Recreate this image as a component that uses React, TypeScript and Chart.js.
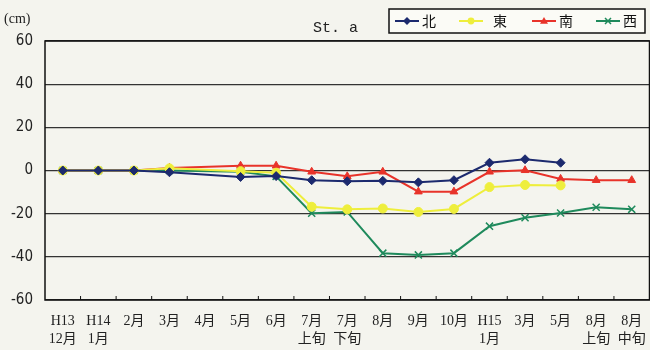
import React, { useEffect, useRef } from "react";
import { Chart, registerables } from "chart.js";

Chart.register(...registerables);

const categories: string[][] = [
  ["H13", "12月"], ["H14", "1月"], ["2月", ""], ["3月", ""], ["4月", ""], ["5月", ""], ["6月", ""],
  ["7月", "上旬"], ["7月", "下旬"], ["8月", ""], ["9月", ""], ["10月", ""], ["H15", "1月"],
  ["3月", ""], ["5月", ""], ["8月", "上旬"], ["8月", "中旬"],
];

const north: (number | null)[] = [0, 0, 0, -0.8, null, -3, -2.6, -4.5, -5, -4.8, -5.5, -4.5, 3.6, 5.2, 3.6, null, null];
const east: (number | null)[] = [0, 0, 0, 1, null, -0.3, -1, -16.8, -18, -17.6, -19.2, -17.8, -7.7, -6.7, -6.9, null, null];
const south: (number | null)[] = [0, 0, 0, 1.2, null, 2.2, 2.2, -0.6, -2.7, -0.6, -9.8, -9.8, -0.6, 0.1, -3.9, -4.5, -4.5];
const west: (number | null)[] = [0, 0, 0, 0, null, -0.6, -2.7, -19.8, -19.2, -38.3, -39.1, -38.3, -25.8, -21.9, -19.7, -17, -18];

const seriesNames = ["北", "東", "南", "西"];
const seriesColors = ["#1c2a6e", "#eeee3c", "#e8332a", "#1f8a5c"];
const seriesStyles = ["rectRot", "circle", "triangle", "crossRot"];

const SERIF = "'Liberation Serif', 'Noto Sans CJK JP', serif";

function drawMarker(ctx: CanvasRenderingContext2D, style: string, x: number, y: number, r: number, color: string) {
  ctx.save();
  ctx.fillStyle = color;
  ctx.strokeStyle = color;
  ctx.lineWidth = 1.5;
  ctx.beginPath();
  if (style === "rectRot") {
    ctx.moveTo(x, y - r); ctx.lineTo(x + r, y); ctx.lineTo(x, y + r); ctx.lineTo(x - r, y); ctx.closePath(); ctx.fill();
  } else if (style === "circle") {
    ctx.arc(x, y, r * 0.85, 0, Math.PI * 2); ctx.fill();
  } else if (style === "triangle") {
    ctx.moveTo(x, y - r); ctx.lineTo(x + r, y + r * 0.7); ctx.lineTo(x - r, y + r * 0.7); ctx.closePath(); ctx.fill();
  } else {
    const d = r * 0.75;
    ctx.moveTo(x - d, y - d); ctx.lineTo(x + d, y + d); ctx.moveTo(x + d, y - d); ctx.lineTo(x - d, y + d); ctx.stroke();
  }
  ctx.restore();
}

const decorPlugin = {
  id: "decor",
  afterDraw(chart: any) {
    const ctx: CanvasRenderingContext2D = chart.ctx;
    const a = chart.chartArea;
    const xs = chart.scales.x;
    ctx.save();
    ctx.strokeStyle = "#111";
    ctx.lineWidth = 1.5;
    ctx.strokeRect(a.left, a.top, a.right - a.left, a.bottom - a.top);
    ctx.lineWidth = 1;
    for (let i = 1; i < categories.length; i++) {
      const bx = (xs.getPixelForTick(i - 1) + xs.getPixelForTick(i)) / 2;
      ctx.beginPath();
      ctx.moveTo(bx, a.bottom);
      ctx.lineTo(bx, a.bottom - 4);
      ctx.stroke();
    }
    ctx.fillStyle = "#222";
    ctx.font = "14px " + SERIF;
    ctx.textBaseline = "middle";
    ctx.textAlign = "left";
    ctx.fillText("(cm)", 4, 19);
    ctx.font = "15px 'Liberation Mono', 'DejaVu Sans Mono', monospace";
    ctx.fillText("St. a", 313, 28);
    const lx = 389, ly = 9, lw = 256, lh = 24;
    ctx.fillStyle = "#fbfbf6";
    ctx.fillRect(lx, ly, lw, lh);
    ctx.strokeStyle = "#111";
    ctx.lineWidth = 1.5;
    ctx.strokeRect(lx, ly, lw, lh);
    const cy = ly + lh / 2;
    const itemStarts = [395, 459, 532, 596];
    ctx.font = "14px " + SERIF;
    for (let i = 0; i < 4; i++) {
      const sx = itemStarts[i];
      ctx.strokeStyle = seriesColors[i];
      ctx.lineWidth = 2;
      ctx.beginPath();
      ctx.moveTo(sx, cy);
      ctx.lineTo(sx + 24, cy);
      ctx.stroke();
      drawMarker(ctx, seriesStyles[i], sx + 12, cy, 4, seriesColors[i]);
      ctx.fillStyle = "#111";
      ctx.textAlign = "left";
      ctx.fillText(seriesNames[i], sx + (i === 1 ? 34 : 27), cy + 1);
    }
    ctx.restore();
  },
};

export default function App() {
  const ref = useRef<HTMLCanvasElement>(null);
  useEffect(() => {
    if (!ref.current) return;
    const datasets = [north, east, south, west].map((d, i) => ({
      label: seriesNames[i],
      data: d,
      borderColor: seriesColors[i],
      backgroundColor: seriesColors[i],
      pointStyle: seriesStyles[i] as any,
      pointRadius: i === 3 ? 5 : 4.5,
      pointBorderWidth: i === 3 ? 1.5 : 1,
      borderWidth: 2,
      spanGaps: true,
      tension: 0,
    }));
    const chart = new Chart(ref.current, {
      type: "line",
      data: { labels: categories, datasets },
      plugins: [decorPlugin],
      options: {
        animation: false,
        responsive: false,
        maintainAspectRatio: false,
        layout: { padding: { top: 41, right: 0, left: 0, bottom: 0 } },
        plugins: { legend: { display: false }, tooltip: { enabled: false }, title: { display: false } },
        scales: {
          x: {
            offset: true,
            grid: { display: false, drawTicks: false },
            border: { display: false },
            ticks: {
              color: "#222",
              font: { family: SERIF, size: 14, lineHeight: 1.3 },
              maxRotation: 0,
              autoSkip: false,
              padding: 12,
            },
            afterFit(s: any) { s.height = 50; s.paddingLeft = 0; s.paddingRight = 0; },
          },
          y: {
            min: -60,
            max: 60,
            grid: { color: "#333", lineWidth: 1.2, drawTicks: false },
            border: { display: false },
            ticks: {
              stepSize: 20,
              color: "#222",
              font: { family: "'DejaVu Sans Condensed', 'Liberation Sans Narrow', sans-serif", size: 15 },
              padding: 12,
            },
            afterFit(s: any) { s.width = 45; },
          },
        },
      },
    });
    return () => chart.destroy();
  }, []);
  return (
    <div style={{ position: "absolute", left: 0, top: 0, width: 650, height: 350, overflow: "hidden", background: "#f4f4ee" }}>
      <canvas ref={ref} width={656} height={350} style={{ width: 656, height: 350 }} />
    </div>
  );
}
